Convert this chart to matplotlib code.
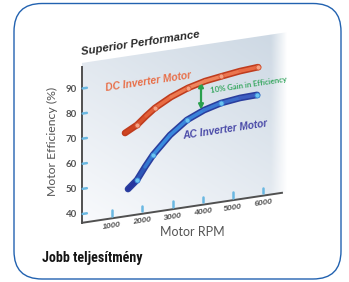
import numpy as np
import matplotlib
matplotlib.use('Agg')
import matplotlib.pyplot as plt
from matplotlib.transforms import Affine2D
from matplotlib.patches import FancyBboxPatch
from matplotlib.collections import LineCollection
from matplotlib.colors import LinearSegmentedColormap

# ---------------- data ----------------
rpm_dc = [1424, 1821, 2119, 2417, 2947, 3510, 4073, 4603, 5232, 5828]
eff_dc = [69.7, 72.2, 75.2, 77.9, 81.3, 83.9, 85.6, 86.5, 87.5, 88.0]
rpm_ac = [1523, 1821, 2086, 2351, 2914, 3477, 4040, 4603, 5232, 5795]
eff_ac = [47.2, 50.3, 55.0, 59.3, 66.2, 71.2, 74.1, 75.9, 76.8, 77.0]
marker_idx = [1, 3, 5, 7, 9]
x_ticks = [1000, 2000, 3000, 4000, 5000, 6000]
y_ticks = [40, 50, 60, 70, 80, 90]
gain_rpm = 3940
gain_top, gain_bottom = 85.5, 74.5

title = "Superior Performance"
dc_label = "DC Inverter Motor"
ac_label = "AC Inverter Motor"
gain_label = "10% Gain in Efficiency"
xlabel = "Motor RPM"
ylabel = "Motor Efficiency (%)"
caption = "Jobb teljesítmény"

FONT = ['Lato', 'DejaVu Sans']
IFONT = ['Liberation Sans', 'DejaVu Sans']

W, H = 349, 282
fig = plt.figure(figsize=(W / 100, H / 100), dpi=100)

# background / frame
bg = fig.add_axes([0, 0, 1, 1])
bg.set_xlim(0, W)
bg.set_ylim(H, 0)
bg.axis('off')
bg.add_patch(FancyBboxPatch((14, 3.5), 327, 275.5,
                            boxstyle='round,pad=0,rounding_size=28',
                            fc='white', ec='#2262b0', lw=1.0))
bg.text(42, 258, caption, fontsize=10.1, fontweight='bold',
        family=['Roboto Condensed', 'Liberation Sans', 'DejaVu Sans'],
        va='center', ha='left', color='#151515')

# sheared chart axes
ax = fig.add_axes([0.2350, 0.2099, 0.5885, 0.5652])
ax.set_autoscale_on(False)
ax.axis('off')
s = 0.1933
shear = Affine2D(np.array([[1.0, 0, 0], [s, 1.0, 0], [0, 0, 1.0]]))
tr_axes = shear + ax.transAxes
tr = ax.transScale + ax.transLimits + shear + ax.transAxes

# panel gradient
ny, nx = 60, 120
u = np.linspace(0, 1, nx)[None, :]
v = np.linspace(1, 0, ny)[:, None]
t = np.clip(0.5 * u + 0.5 * v, 0, 1)
light = np.array([0.975, 0.98, 0.99])
dark = np.array([0.80, 0.845, 0.89])
img = np.zeros((ny, nx, 4))
for k in range(3):
    img[..., k] = light[k] + (dark[k] - light[k]) * t
alpha = np.ones((ny, nx))
alpha *= np.clip((1 - u) / 0.08, 0, 1)
img[..., 3] = alpha
im = ax.imshow(img, extent=(0, 1, 0, 1), transform=tr_axes, aspect='auto',
               interpolation='bilinear', zorder=0)
im.set_clip_on(False)

ax.set_xlim(0, 6800)
ax.set_ylim(36.5, 100)

# axes lines
ax.plot([0, 0], [36.5, 98.5], transform=tr, color='#505050', lw=1.4,
        clip_on=False, zorder=2)
ax.plot([0, 6620], [36.5, 36.5], transform=tr, color='#505050', lw=1.4,
        clip_on=False, zorder=2)

# ticks
for yt in y_ticks:
    ax.plot([20, 160], [yt, yt], transform=tr, color='#6ab8e2', lw=1.8,
            clip_on=False, zorder=2, solid_capstyle='round')
    ax.text(-165, yt, str(yt), transform=tr, ha='right', va='center',
            fontsize=7, fontweight='bold', color='#555555', family=FONT,
            clip_on=False)
for xt in x_ticks:
    ax.plot([xt, xt], [37.4, 39.6], transform=tr, color='#6ab8e2', lw=1.8,
            clip_on=False, zorder=2, solid_capstyle='round')
    ax.text(xt, 33.5, str(xt), transform=tr, ha='center', va='center',
            rotation=8.5, rotation_mode='anchor', fontsize=6,
            fontweight='bold', fontstyle='italic', color='#555555',
            family=IFONT, clip_on=False)


def tube(xs, ys, edge, cols, mcol, medge):
    ax.plot(xs, ys, transform=tr, color=edge, lw=4.8, clip_on=False,
            solid_capstyle='round', solid_joinstyle='round', zorder=3)
    cmap = LinearSegmentedColormap.from_list('c', cols)
    pts = np.column_stack([xs, ys])
    segs = np.stack([pts[:-1], pts[1:]], axis=1)
    lc = LineCollection(segs, transform=tr, linewidths=2.5,
                        colors=cmap(np.linspace(0, 1, len(segs))),
                        capstyle='round', joinstyle='round', zorder=4)
    lc.set_clip_on(False)
    ax.add_collection(lc)
    mx = [xs[i] for i in marker_idx]
    my = [ys[i] for i in marker_idx]
    ax.plot(mx, my, transform=tr, ls='none', marker='o', ms=3.6,
            mfc=mcol, mec=medge, mew=0.6, clip_on=False, zorder=5)


tube(rpm_dc, eff_dc, '#bf3c1e', ['#cf4420', '#e8683e', '#f08a62', '#e86a44'],
     '#f4a284', '#d65a38')
tube(rpm_ac, eff_ac, '#2a3e9e', ['#2636a0', '#3a8ee0', '#3a82d8', '#3c5cc0'],
     '#6cc4f0', '#3a8ad8')

# gain arrow
ax.annotate('', xy=(gain_rpm, gain_top), xytext=(gain_rpm, gain_bottom),
            xycoords=tr, textcoords=tr, annotation_clip=False,
            arrowprops=dict(arrowstyle='<|-|>', color='#2aa04e', lw=1.6,
                            mutation_scale=7, shrinkA=0, shrinkB=0))

# labels
ax.text(4272, 80.5, gain_label, transform=tr, ha='left', va='baseline',
        rotation=8.5, rotation_mode='anchor', fontsize=5.6,
        fontweight='bold', color='#3aa862', family=FONT, clip_on=False)
ax.text(795, 87.6, dc_label, transform=tr, ha='left', va='baseline',
        rotation=8.5, rotation_mode='anchor', fontsize=7.4,
        fontstyle='italic', fontweight='bold', color='#e8704a',
        family=IFONT, clip_on=False)
ax.text(3344, 63.8, ac_label, transform=tr, ha='left', va='baseline',
        rotation=8.5, rotation_mode='anchor', fontsize=7.3,
        fontstyle='italic', fontweight='bold', color='#4a4aa8', family=IFONT,
        clip_on=False)
ax.text(0, 103.3, title, transform=tr, ha='left', va='baseline',
        rotation=8.5, rotation_mode='anchor', fontsize=8.2,
        fontstyle='italic', fontweight='bold', color='#2a2a2a', family=IFONT,
        clip_on=False)

bg.text(52, 141, ylabel, rotation=90, ha='center', va='center', fontsize=8.8,
        color='#555555', family=FONT)
bg.text(192, 232, xlabel, ha='center', va='center', fontsize=9,
        color='#555555', family=FONT)

fig.savefig('out.png', dpi=100)
